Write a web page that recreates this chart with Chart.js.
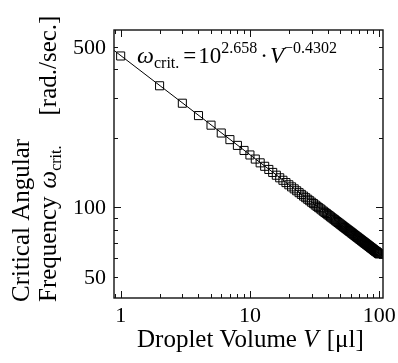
<!DOCTYPE html>
<html>
<head>
<meta charset="utf-8">
<script src="https://cdn.jsdelivr.net/npm/chart.js@4"></script>
<style>
  body { margin: 0; background: #fff; }
  #wrap { width: 398px; height: 363px; }
</style>
</head>
<body>
<div id="wrap"><canvas id="critChart"></canvas></div>
<script>
// droplet volume V [ul], one measurement per integer volume
var volume = [
  1, 2, 3, 4, 5, 6, 7, 8, 9, 10,
  11, 12, 13, 14, 15, 16, 17, 18, 19, 20,
  21, 22, 23, 24, 25, 26, 27, 28, 29, 30,
  31, 32, 33, 34, 35, 36, 37, 38, 39, 40,
  41, 42, 43, 44, 45, 46, 47, 48, 49, 50,
  51, 52, 53, 54, 55, 56, 57, 58, 59, 60,
  61, 62, 63, 64, 65, 66, 67, 68, 69, 70,
  71, 72, 73, 74, 75, 76, 77, 78, 79, 80,
  81, 82, 83, 84, 85, 86, 87, 88, 89, 90,
  91, 92, 93, 94, 95, 96, 97, 98, 99, 100
];
// critical angular frequency [rad./sec.]
var omega = [
  455, 337.7, 283.6, 250.6, 227.7, 210.5, 197.0, 186.0, 176.8, 169.0,
  162.2, 156.2, 150.9, 146.2, 141.9, 138.0, 134.5, 131.2, 128.2, 125.4,
  122.8, 120.4, 118.1, 115.9, 113.9, 112.0, 110.2, 108.5, 106.9, 105.3,
  103.9, 102.4, 101.1, 99.8, 98.6, 97.4, 96.2, 95.1, 94.1, 93.0,
  92.1, 91.1, 90.2, 89.3, 88.5, 87.6, 86.8, 86.0, 85.3, 84.5,
  83.8, 83.1, 82.4, 81.8, 81.1, 80.5, 79.9, 79.3, 78.7, 78.2,
  77.6, 77.1, 76.5, 76.0, 75.5, 75.0, 74.5, 74.1, 73.6, 73.1,
  72.7, 72.3, 71.8, 71.4, 71.0, 70.6, 70.2, 69.8, 69.4, 69.1,
  68.7, 68.3, 68.0, 67.6, 67.3, 66.9, 66.6, 66.3, 66.0, 65.6,
  65.3, 65.0, 64.7, 64.4, 64.2, 63.9, 63.6, 63.3, 63.0, 62.8
];
// fitted power law, end points of the straight line
var fitV = [0.888, 107];
var fitOmega = [481, 61];

var xLabels = [1, 10, 100];
var yLabels = [50, 100, 500];
var xMajor = [1, 10, 100];
var yMajor = [100];

var serif = "'Liberation Serif', 'Times New Roman', serif";

function pts(xs, ys) {
  var out = [];
  for (var i = 0; i < xs.length; i++) out.push({x: xs[i], y: ys[i]});
  return out;
}

// draws a run of text pieces (font, text, vertical shift)
function drawRich(ctx, parts, x, y) {
  var cx = x;
  parts.forEach(function(p) {
    cx += p.pre || 0;
    ctx.font = p.font;
    ctx.fillText(p.text, cx, y + (p.dy || 0));
    cx += ctx.measureText(p.text).width;
  });
  return cx - x;
}

function minorTicks(min, max) {
  var t = [];
  for (var d = Math.pow(10, Math.floor(Math.log10(min))); d <= max; d *= 10) {
    for (var m = 1; m <= 9; m++) {
      var v = m * d;
      if (v >= min && v <= max) t.push(v);
    }
  }
  return t;
}

var framePlugin = {
  id: 'frame',
  afterDraw: function(chart) {
    var ctx = chart.ctx, a = chart.chartArea;
    var xs = chart.scales.x, ys = chart.scales.y;
    ctx.save();
    ctx.strokeStyle = '#111';
    ctx.lineWidth = 1.4;
    ctx.strokeRect(a.left, a.top, a.right - a.left, a.bottom - a.top);

    ctx.lineWidth = 1;
    ctx.beginPath();
    minorTicks(xs.min, xs.max).forEach(function(v) {
      var px = Math.round(xs.getPixelForValue(v)) + 0.5;
      var len = xMajor.indexOf(v) >= 0 ? 7 : 4;
      ctx.moveTo(px, a.bottom); ctx.lineTo(px, a.bottom - len);
      ctx.moveTo(px, a.top); ctx.lineTo(px, a.top + len);
    });
    minorTicks(ys.min, ys.max).forEach(function(v) {
      var py = Math.round(ys.getPixelForValue(v)) + 0.5;
      var len = yMajor.indexOf(v) >= 0 ? 7 : 4;
      ctx.moveTo(a.left, py); ctx.lineTo(a.left + len, py);
      ctx.moveTo(a.right, py); ctx.lineTo(a.right - len, py);
    });
    ctx.stroke();

    // tick labels
    ctx.fillStyle = '#000';
    ctx.font = '22px ' + serif;
    ctx.textAlign = 'center';
    ctx.textBaseline = 'alphabetic';
    xLabels.forEach(function(v) {
      ctx.fillText(String(v), xs.getPixelForValue(v), 322);
    });
    ctx.textAlign = 'right';
    yLabels.forEach(function(v) {
      ctx.fillText(String(v), a.left - 8, ys.getPixelForValue(v) + 7);
    });

    ctx.textAlign = 'left';
    // x axis title
    drawRich(ctx, [
      {font: '25px ' + serif, text: 'Droplet Volume '},
      {font: 'italic 25px ' + serif, text: 'V'},
      {font: '25px ' + serif, text: ' [\u03bcl]', pre: 2}
    ], 137, 347);

    // y axis title, two rotated lines
    ctx.save();
    ctx.translate(29, 302);
    ctx.rotate(-Math.PI / 2);
    drawRich(ctx, [{font: '25px ' + serif, text: 'Critical Angular'}], 0, 0);
    ctx.restore();
    ctx.save();
    ctx.translate(56, 302);
    ctx.rotate(-Math.PI / 2);
    drawRich(ctx, [
      {font: '25px ' + serif, text: 'Frequency'},
      {font: 'italic 25px ' + serif, text: '\u03c9', pre: 8},
      {font: '16px ' + serif, text: 'crit.', dy: 5},
      {font: '25px ' + serif, text: '[rad./sec.]', pre: 30}
    ], 0, 0);
    ctx.restore();

    // fit equation
    drawRich(ctx, [
      {font: 'italic 24px ' + serif, text: '\u03c9'},
      {font: '16px ' + serif, text: 'crit.', dy: 5},
      {font: '23px ' + serif, text: '=', pre: 4},
      {font: '23px ' + serif, text: '10', pre: 2},
      {font: '16px ' + serif, text: '2.658', dy: -10},
      {font: '23px ' + serif, text: '\u00b7', pre: 3},
      {font: 'italic 23px ' + serif, text: 'V', pre: 2},
      {font: '16px ' + serif, text: '\u22120.4302', dy: -10}
    ], 137, 63);
    ctx.restore();
  }
};

new Chart("critChart", {
  type: "scatter",
  data: {
    datasets: [{
      data: pts(volume, omega),
      pointStyle: 'rect',
      pointRadius: 5.7,
      pointBorderWidth: 1,
      pointBorderColor: '#000',
      pointBackgroundColor: 'rgba(0,0,0,0)',
      showLine: false
    }, {
      data: pts(fitV, fitOmega),
      showLine: true,
      borderColor: '#000',
      borderWidth: 1,
      pointRadius: 0
    }]
  },
  options: {
    responsive: true,
    maintainAspectRatio: false,
    animation: false,
    layout: {
      padding: {left: 114, top: 30, right: 15, bottom: 65}
    },
    scales: {
      x: {type: 'logarithmic', min: 0.888, max: 107, display: false},
      y: {type: 'logarithmic', min: 40.4, max: 590, display: false}
    },
    plugins: {
      legend: {display: false},
      tooltip: {enabled: false}
    }
  },
  plugins: [framePlugin]
});
</script>
</body>
</html>
